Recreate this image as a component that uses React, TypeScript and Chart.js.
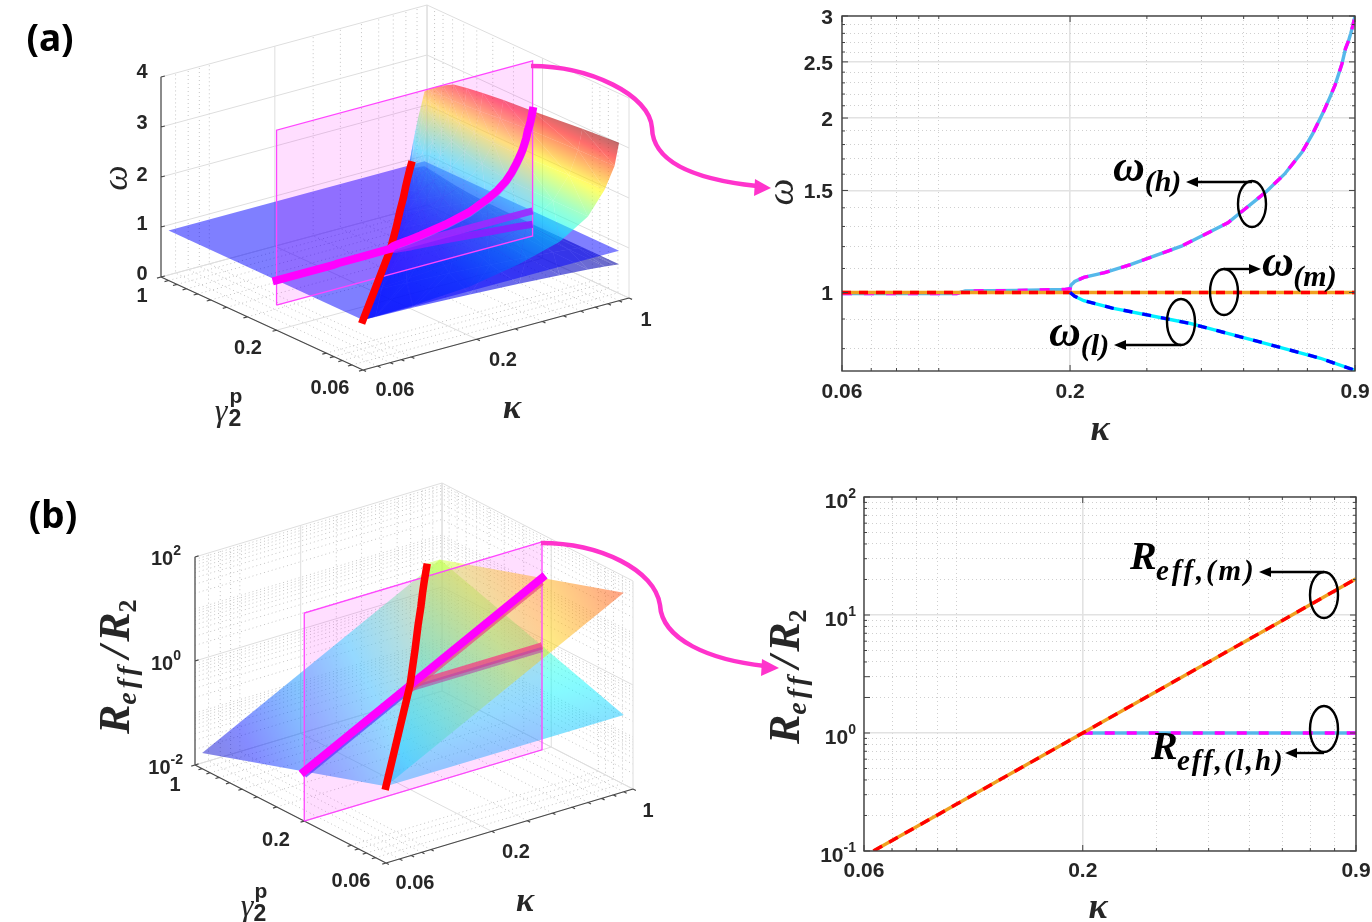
import React, { useEffect, useRef } from 'react';
import { Chart, registerables } from 'chart.js';

Chart.register(...registerables);

// ---------- data ----------
const kappaHigh = [0.06, 0.11, 0.115, 0.15, 0.195, 0.2, 0.201, 0.205, 0.215, 0.24, 0.275, 0.36, 0.46, 0.56, 0.62, 0.68, 0.72, 0.762, 0.79, 0.81, 0.84, 0.856, 0.87, 0.88, 0.89, 0.9];
const omegaHigh = [0.996, 0.996, 1.006, 1.008, 1.012, 1.015, 1.03, 1.045, 1.062, 1.082, 1.117, 1.202, 1.319, 1.487, 1.6, 1.745, 1.88, 2.05, 2.18, 2.28, 2.48, 2.636, 2.72, 2.8, 2.89, 3];
const kappaMid = [0.06, 0.2, 0.9];
const omegaMid = [1, 1, 1];
const kappaLow = [0.2, 0.205, 0.215, 0.25, 0.375, 0.56, 0.75, 0.9];
const omegaLow = [1, 0.985, 0.968, 0.94, 0.885, 0.817, 0.77, 0.734];

const kappaRm = [0.0632, 0.1, 0.2, 0.4, 0.6, 0.9];
const ratioRm = [0.1, 0.25, 1, 4, 9, 20.25];
const kappaRlh = [0.2, 0.4, 0.6, 0.9];
const ratioRlh = [1, 1, 1, 1];

const kappaMajor = [0.06, 0.2, 0.9];
const kappaMinor = [0.07, 0.08, 0.09, 0.1, 0.3, 0.4, 0.5, 0.6, 0.7, 0.8];
const omegaMajor = [1, 1.5, 2, 2.5, 3];
const omegaMinor = [0.8, 0.9, 1.1, 1.2, 1.3, 1.4, 1.6, 1.7, 1.8, 1.9, 2.1, 2.2, 2.3, 2.4, 2.6, 2.7, 2.8, 2.9];
const ratioMajor = [0.1, 1, 10, 100];
const ratioMinor = [0.2, 0.3, 0.4, 0.5, 0.6, 0.7, 0.8, 0.9, 2, 3, 4, 5, 6, 7, 8, 9, 20, 30, 40, 50, 60, 70, 80, 90];
const ratioExponents = ['-1', '0', '1', '2'];

// 3D surfaces
const axisMajor3d = [0.06, 0.2, 1];
const axisMinor3d = [0.07, 0.08, 0.09, 0.1, 0.3, 0.4, 0.5, 0.6, 0.7, 0.8, 0.9];
const omegaTicks3d = [0, 1, 2, 3, 4];
const ratioTicks3d = [0.01, 1, 100];
const ratioMinor3d = [0.02, 0.03, 0.04, 0.05, 0.06, 0.07, 0.08, 0.09, 0.1, 0.2, 0.3, 0.4, 0.5, 0.6, 0.7, 0.8, 0.9, 2, 3, 4, 5, 6, 7, 8, 9, 10, 20, 30, 40, 50, 60, 70, 80, 90];
const gammaRows = [0.06, 0.1, 0.2, 0.3, 0.4, 0.5, 0.6, 0.7, 0.8, 0.85, 0.9];
const epKappa = [0.06, 0.1, 0.2, 0.29, 0.375, 0.46, 0.54, 0.62, 0.7, 0.74, 0.78];
const epOmega = [1, 1, 1, 1, 1, 1, 1, 1, 1, 1, 1];
const edgeFractions = [0, 0.01, 0.05, 0.15, 0.3, 0.5, 0.7, 0.85, 0.95, 1];
const omegaHighRows = [
  [1, 1.005, 1.02, 1.09, 1.27, 1.5, 1.85, 2.3, 2.72, 3.16],
  [1, 1.015, 1.05, 1.11, 1.265, 1.49, 1.82, 2.25, 2.7, 3.1],
  [1, 1.025, 1.08, 1.14, 1.26, 1.47, 1.76, 2.17, 2.65, 3.0],
  [1, 1.04, 1.12, 1.2, 1.32, 1.5, 1.78, 2.15, 2.6, 2.95],
  [1, 1.06, 1.16, 1.27, 1.4, 1.56, 1.82, 2.15, 2.55, 2.9],
  [1, 1.08, 1.2, 1.33, 1.46, 1.65, 1.88, 2.18, 2.52, 2.85],
  [1, 1.1, 1.26, 1.44, 1.6, 1.76, 1.95, 2.2, 2.5, 2.8],
  [1, 1.12, 1.32, 1.55, 1.72, 1.9, 2.06, 2.26, 2.5, 2.68],
  [1, 1.12, 1.3, 1.55, 1.78, 1.98, 2.14, 2.3, 2.45, 2.55],
  [1, 1.12, 1.27, 1.5, 1.72, 1.96, 2.14, 2.28, 2.4, 2.47],
  [1, 1.1, 1.22, 1.45, 1.65, 1.9, 2.1, 2.25, 2.35, 2.4],
];
const omegaLowRows = [
  [1, 0.995, 0.98, 0.93, 0.88, 0.83, 0.79, 0.76, 0.74, 0.73],
  [1, 0.99, 0.97, 0.93, 0.88, 0.83, 0.79, 0.76, 0.74, 0.73],
  [1, 0.98, 0.955, 0.92, 0.875, 0.825, 0.785, 0.757, 0.74, 0.733],
  [1, 0.975, 0.945, 0.91, 0.87, 0.825, 0.79, 0.76, 0.745, 0.74],
  [1, 0.97, 0.94, 0.905, 0.87, 0.83, 0.795, 0.77, 0.755, 0.75],
  [1, 0.965, 0.93, 0.9, 0.87, 0.835, 0.805, 0.785, 0.775, 0.77],
  [1, 0.96, 0.925, 0.895, 0.875, 0.85, 0.83, 0.815, 0.805, 0.8],
  [1, 0.955, 0.925, 0.9, 0.885, 0.87, 0.86, 0.85, 0.845, 0.84],
  [1, 0.955, 0.93, 0.91, 0.9, 0.89, 0.885, 0.88, 0.875, 0.87],
  [1, 0.96, 0.94, 0.925, 0.915, 0.905, 0.9, 0.895, 0.89, 0.885],
  [1, 0.96, 0.94, 0.93, 0.92, 0.915, 0.91, 0.905, 0.9, 0.9],
];
const flatKappa = [0.06, 0.9, 0.9, 0.06];
const flatGamma = [0.06, 0.06, 0.9, 0.9];
const flatOmega = [1, 1, 1, 1];
const sliceGamma = 0.2;
const sliceKappa = [0.06, 0.9, 0.9, 0.06, 0.06];
const sliceOmega = [0.5, 0.5, 4, 4, 0.5];
const sliceRatio = [0.01, 0.01, 100, 100, 0.01];
const sheetKappa = [0.06, 0.9, 0.9, 0.06];
const sheetGamma = [0.06, 0.06, 0.9, 0.9];
const sheetRatio = [0.3, 67.5, 4.5, 0.02];
const lineKappa3d = [0.06, 0.1, 0.2, 0.4, 0.6, 0.9];
const lineRatio3d = [0.09, 0.25, 1, 4, 9, 20.25];
const flatBranchKappa3d = [0.2, 0.9];
const flatBranchRatio3d = [1, 1];
const epRatio = [0.3, 0.5, 1, 1.7, 2.4, 3, 3.5, 3.9, 4.2, 4.35, 4.5];

// ---------- helpers ----------
type P = { x: number; y: number };
const clamp01 = (v: number) => Math.max(0, Math.min(1, v));
const jet = (t: number, a: number) => {
  const c = (k: number) => Math.round(255 * clamp01(1.5 - Math.abs(4 * t - k)));
  return `rgba(${c(3)},${c(2)},${c(1)},${a})`;
};
const GAP: P = { x: NaN, y: NaN };
const lg = (v: number) => Math.log(v / 0.06) / Math.log(1 / 0.06);

function makeProjector(o: P, uk: P, ug: P, uz: P, zf: (v: number) => number) {
  return (k: number, g: number, v: number): P => {
    const a = lg(k), b = lg(g), c = zf(v);
    return { x: o.x + a * uk.x + b * ug.x + c * uz.x, y: o.y + a * uk.y + b * ug.y + c * uz.y };
  };
}

function gradientFill(vals: number[], color: (v: number) => string) {
  return (c: any) => {
    const ch = c.chart;
    const pts: P[] = c.dataset.data;
    const xs = ch.scales.x, ys = ch.scales.y;
    if (!xs || !ys || !pts) return color(vals[0]);
    const X = pts.map((p) => xs.getPixelForValue(p.x));
    const Y = pts.map((p) => ys.getPixelForValue(p.y));
    if (!X.concat(Y).every(Number.isFinite)) return color(vals[0]);
    const d = (X[1] - X[0]) * (Y[2] - Y[0]) - (X[2] - X[0]) * (Y[1] - Y[0]);
    const lo = Math.min(...vals), hi = Math.max(...vals);
    if (Math.abs(d) < 1e-6 || hi - lo < 1e-6) return color(vals[0]);
    const A = ((vals[1] - vals[0]) * (Y[2] - Y[0]) - (vals[2] - vals[0]) * (Y[1] - Y[0])) / d;
    const B = ((X[1] - X[0]) * (vals[2] - vals[0]) - (X[2] - X[0]) * (vals[1] - vals[0])) / d;
    const n = A * A + B * B;
    if (n < 1e-14) return color(vals[0]);
    const at = (v: number) => [X[0] + ((v - vals[0]) * A) / n, Y[0] + ((v - vals[0]) * B) / n];
    const [x0, y0] = at(lo);
    const [x1, y1] = at(hi);
    if (![x0, y0, x1, y1].every(Number.isFinite)) return color(vals[0]);
    const g = ch.ctx.createLinearGradient(x0, y0, x1, y1);
    for (let i = 0; i <= 10; i++) g.addColorStop(i / 10, color(lo + ((hi - lo) * i) / 10));
    return g;
  };
}

const lineSet = (data: P[], color: string, width: number, dash: number[] = [], cap = 'butt') => ({
  data, showLine: true, borderColor: color, borderWidth: width, borderDash: dash, pointRadius: 0,
  fill: false, tension: 0, borderCapStyle: cap, borderJoinStyle: 'round', spanGaps: false,
});
const polySet = (data: P[], bg: any, border = 'rgba(0,0,0,0)', bw = 0) => ({
  data, showLine: true, backgroundColor: bg, borderColor: border, borderWidth: bw, pointRadius: 0,
  fill: 'shape', tension: 0,
});

function wallDatasets(pr: (k: number, g: number, v: number) => P, zMin: number, zMax: number, zMajor: number[], zMinor: number[]) {
  const major: P[] = [], minor: P[] = [], axis: P[] = [];
  const add = (arr: P[], ...pts: P[]) => { arr.push(...pts, GAP); };
  const verticals = (list: number[], arr: P[]) => {
    for (const k of list) add(arr, pr(k, 0.06, zMin), pr(k, 1, zMin), pr(k, 1, zMax));
    for (const g of list) add(arr, pr(0.06, g, zMin), pr(1, g, zMin), pr(1, g, zMax));
  };
  verticals(axisMajor3d, major);
  verticals(axisMinor3d, minor);
  for (const z of zMajor) add(major, pr(0.06, 1, z), pr(1, 1, z), pr(1, 0.06, z));
  for (const z of zMinor) add(minor, pr(0.06, 1, z), pr(1, 1, z), pr(1, 0.06, z));
  add(axis, pr(0.06, 1, zMax), pr(0.06, 1, zMin), pr(0.06, 0.06, zMin), pr(1, 0.06, zMin));
  for (const t of [...axisMajor3d, ...axisMinor3d]) {
    add(axis, pr(t, 0.06, zMin), pr(t, 0.0575, zMin));
    add(axis, pr(0.06, t, zMin), pr(0.0575, t, zMin));
  }
  for (const z of zMajor) add(axis, pr(0.06, 1, z), pr(0.0625, 1, z));
  return [
    lineSet(minor, '#c4c4c4', 1, [1, 3]),
    lineSet(major, '#dedede', 1),
    lineSet(axis, '#4a4a4a', 1.2),
  ];
}

function meshDatasets(
  pr: (k: number, g: number, v: number) => P,
  rows: number[][],
  color: (v: number) => string,
) {
  const out: any[] = [];
  const vert = (j: number, i: number) => {
    const k = epKappa[j] + edgeFractions[i] * (0.9 - epKappa[j]);
    return { p: pr(k, gammaRows[j], rows[j][i]), v: rows[j][i] };
  };
  for (let j = rows.length - 2; j >= 0; j--) {
    for (let i = 0; i < edgeFractions.length - 1; i++) {
      const a = vert(j, i), b = vert(j, i + 1), c = vert(j + 1, i + 1), d = vert(j + 1, i);
      for (const t of [[a, b, c], [a, c, d]]) {
        const vals = t.map((q) => q.v);
        out.push(polySet(t.map((q) => q.p), gradientFill(vals, color)));
      }
    }
  }
  return out;
}

// ---------- scene (both 3D panels and the call-out curves) ----------
function sceneDatasets() {
  const prA = makeProjector({ x: 363, y: 370 }, { x: 266, y: -72 }, { x: -202, y: -93 }, { x: 0, y: -200 }, (w) => w / 4);
  const prB = makeProjector({ x: 386, y: 863 }, { x: 247, y: -74 }, { x: -191, y: -98 }, { x: 0, y: -208 }, (r) => (Math.log10(r) + 2) / 4);
  const colA = (w: number) => jet((w - 0.65) / 2.55, 0.58);
  const zB = (r: number) => (Math.log10(r) + 2) / 4;
  const colB = (z: number) => jet(z * 0.85, 0.48);

  const a: any[] = [];
  a.push(...wallDatasets(prA, 0, 4, omegaTicks3d, []));
  a.push(...meshDatasets(prA, omegaLowRows, colA));
  a.push(polySet(flatKappa.map((k, i) => prA(k, flatGamma[i], flatOmega[i])), 'rgba(0,0,255,0.5)'));
  a.push(...meshDatasets(prA, omegaHighRows, colA));
  a.push(polySet(sliceKappa.map((k, i) => prA(k, sliceGamma, sliceOmega[i])), 'rgba(255,0,255,0.13)', '#ff45ff', 1.3));
  a.push(lineSet(kappaLow.map((k, i) => prA(k, sliceGamma, omegaLow[i])), 'rgba(140,30,255,0.9)', 7));
  a.push(lineSet(kappaMid.map((k, i) => prA(k, sliceGamma, omegaMid[i])).slice(1), 'rgba(160,40,255,0.9)', 7));
  a.push(lineSet(kappaHigh.map((k, i) => prA(k, sliceGamma, omegaHigh[i] * 0.97)).slice(8), 'rgba(170,120,255,0.6)', 6));
  a.push(lineSet(epKappa.map((k, i) => prA(k, gammaRows[i], epOmega[i])), '#ff0000', 7.5, [], 'square'));
  a.push(lineSet(kappaHigh.map((k, i) => prA(k, sliceGamma, omegaHigh[i])), '#ff00ff', 8, [], 'square'));

  const b: any[] = [];
  b.push(...wallDatasets(prB, 0.01, 100, ratioTicks3d, ratioMinor3d));
  const lowerPts: P[] = [prB(0.06, 0.06, 0.3), prB(0.9, 0.06, 0.3)];
  const lowerVals = [zB(0.3), zB(0.3)];
  lowerPts.push(prB(0.9, 0.9, 4.5));
  lowerVals.push(zB(4.5));
  for (let i = gammaRows.length - 1; i >= 0; i--) {
    lowerPts.push(prB(epKappa[i], gammaRows[i], epRatio[i]));
    lowerVals.push(zB(epRatio[i]));
  }
  b.push(polySet(lowerPts, gradientFill(lowerVals, colB)));
  const sheetVals = sheetRatio.map(zB);
  b.push(polySet(sheetKappa.map((k, i) => prB(k, sheetGamma[i], sheetRatio[i])), gradientFill(sheetVals, colB)));
  b.push(polySet(sliceKappa.map((k, i) => prB(k, sliceGamma, sliceRatio[i])), 'rgba(255,0,255,0.13)', '#ff45ff', 1.3));
  b.push(lineSet(flatBranchKappa3d.map((k, i) => prB(k, sliceGamma, flatBranchRatio3d[i])), 'rgba(245,60,130,0.75)', 7));
  b.push(lineSet(flatBranchKappa3d.map((k, i) => prB(k, sliceGamma, flatBranchRatio3d[i] * 0.85)), 'rgba(180,70,170,0.6)', 5));
  b.push(lineSet(lineKappa3d.slice(0, 3).map((k, i) => prB(k, sliceGamma, lineRatio3d[i] * 0.85)), 'rgba(100,40,255,0.7)', 6));
  b.push(lineSet(lineKappa3d.slice(2).map((k, i) => prB(k, sliceGamma, lineRatio3d[i + 2] * 0.82)), 'rgba(235,70,130,0.7)', 6));
  b.push(lineSet(lineKappa3d.map((k, i) => prB(k, sliceGamma, lineRatio3d[i])), '#ff00ff', 8, [], 'square'));
  b.push(lineSet(epKappa.slice(0, -1).map((k, i) => prB(k, gammaRows[i], epRatio[i])), '#ff0000', 7.5, [], 'square'));

  const all = [...a, ...b];
  const n = all.length;
  return all.map((d, i) => ({ ...d, order: n - i }));
}

function text(ctx: CanvasRenderingContext2D, s: string, x: number, y: number, font: string, align: CanvasTextAlign = 'center', color = '#262626') {
  ctx.font = font;
  ctx.textAlign = align;
  ctx.textBaseline = 'middle';
  ctx.fillStyle = color;
  ctx.fillText(s, x, y);
}

function pow10(ctx: CanvasRenderingContext2D, exp: string, right: number, y: number, size: number, esize: number) {
  ctx.save();
  ctx.font = `bold ${esize}px "Liberation Sans"`;
  const w = ctx.measureText(exp).width;
  text(ctx, exp, right, y - 5, `bold ${esize}px "Liberation Sans"`, 'right');
  text(ctx, '10', right - w, y + 3, `bold ${size}px "Liberation Sans"`, 'right');
  ctx.restore();
}

function ratioTitle(ctx: CanvasRenderingContext2D, cx: number, cy: number) {
  ctx.save();
  ctx.translate(cx, cy);
  ctx.rotate(-Math.PI / 2);
  ctx.fillStyle = '#262626';
  ctx.textBaseline = 'alphabetic';
  ctx.textAlign = 'left';
  const big = 'italic bold 44px "Liberation Serif"';
  const sub = 'italic bold 28px "Liberation Serif"';
  let x = -72;
  ctx.font = big; ctx.fillText('R', x, 10); x += ctx.measureText('R').width;
  ctx.font = sub; (ctx as any).letterSpacing = '4px'; ctx.fillText('eff', x, 17); x += ctx.measureText('eff').width + 4;
  (ctx as any).letterSpacing = '0px';
  ctx.font = 'italic bold 44px "Liberation Serif"'; ctx.fillText('/', x, 10); x += ctx.measureText('/').width + 4;
  ctx.font = big; ctx.fillText('R', x, 10); x += ctx.measureText('R').width;
  ctx.font = 'bold 26px "Liberation Serif"'; ctx.fillText('2', x, 17);
  ctx.restore();
}

function arrow(ctx: CanvasRenderingContext2D, x0: number, y0: number, x1: number, y1: number, color = '#000', w = 2.4, head = 12, half = 5) {
  const dx = Math.sign(x1 - x0);
  ctx.strokeStyle = color;
  ctx.fillStyle = color;
  ctx.lineWidth = w;
  ctx.beginPath(); ctx.moveTo(x0, y0); ctx.lineTo(x1 - dx * head, y1); ctx.stroke();
  ctx.beginPath(); ctx.moveTo(x1, y1); ctx.lineTo(x1 - dx * head, y1 - half); ctx.lineTo(x1 - dx * head, y1 + half); ctx.closePath(); ctx.fill();
}

function ring(ctx: CanvasRenderingContext2D, x: number, y: number) {
  ctx.strokeStyle = '#000';
  ctx.lineWidth = 2.4;
  ctx.beginPath(); ctx.ellipse(x, y, 14, 23, 0, 0, Math.PI * 2); ctx.stroke();
}

const scenePlugin = {
  id: 'sceneText',
  afterDatasetsDraw(chart: any) {
    const c: CanvasRenderingContext2D = chart.ctx;
    c.save();
    const tick = 'bold 20px "Liberation Sans"';
    text(c, '(a)', 50, 40, 'bold 37px "Noto Sans"', 'center', '#000');
    text(c, '(b)', 53, 517, 'bold 37px "Noto Sans"', 'center', '#000');
    // panel a
    [['0', 274], ['1', 224], ['2', 175], ['3', 123], ['4', 72]].forEach(([s, y]) => text(c, s as string, 142, y as number, tick));
    text(c, '1', 142, 296, tick);
    text(c, '0.2', 248, 348, tick);
    text(c, '0.06', 330, 388, tick);
    text(c, '0.06', 395, 390, tick);
    text(c, '0.2', 503, 360, tick);
    text(c, '1', 646, 320, tick);
    text(c, 'κ', 512, 409, 'italic bold 34px "Liberation Serif"');
    text(c, 'γ', 221, 413, 'italic 32px "Liberation Serif"');
    text(c, 'p', 236, 397, 'bold 21px "Liberation Sans"');
    text(c, '2', 235, 420, 'bold 23px "Liberation Sans"');
    c.save(); c.translate(118, 178); c.rotate(-Math.PI / 2);
    text(c, 'ω', 0, 0, 'italic 36px "Liberation Serif"'); c.restore();
    // panel b
    pow10(c, '2', 181, 556, 20, 14);
    pow10(c, '0', 181, 661, 20, 14);
    pow10(c, '-2', 183, 765, 20, 14);
    text(c, '1', 175, 785, tick);
    text(c, '0.2', 276, 840, tick);
    text(c, '0.06', 351, 881, tick);
    text(c, '0.06', 415, 883, tick);
    text(c, '0.2', 516, 852, tick);
    text(c, '1', 648, 811, tick);
    text(c, 'κ', 525, 902, 'italic bold 34px "Liberation Serif"');
    text(c, 'γ', 247, 908, 'italic 32px "Liberation Serif"');
    text(c, 'p', 261, 892, 'bold 21px "Liberation Sans"');
    text(c, '2', 260, 915, 'bold 23px "Liberation Sans"');
    ratioTitle(c, 119, 662);
    // call-out curves
    c.strokeStyle = '#ff33cc';
    c.fillStyle = '#ff33cc';
    c.lineWidth = 4.5;
    c.beginPath(); c.moveTo(531, 66); c.bezierCurveTo(590, 66, 650, 95, 652, 128); c.bezierCurveTo(653, 165, 700, 180, 757, 186); c.stroke();
    c.beginPath(); c.moveTo(771, 188); c.lineTo(755, 179); c.lineTo(754, 196); c.closePath(); c.fill();
    c.beginPath(); c.moveTo(541, 543); c.bezierCurveTo(600, 543, 655, 570, 660, 605); c.bezierCurveTo(662, 640, 710, 660, 765, 666); c.stroke();
    c.beginPath(); c.moveTo(779, 668); c.lineTo(762, 659); c.lineTo(761, 676); c.closePath(); c.fill();
    c.restore();
  },
};

function frame(chart: any) {
  const c: CanvasRenderingContext2D = chart.ctx;
  const { left, right, top, bottom } = chart.chartArea;
  c.strokeStyle = '#404040';
  c.lineWidth = 1.4;
  c.strokeRect(left, top, right - left, bottom - top);
  c.lineWidth = 1;
  c.beginPath();
  for (const t of chart.scales.x.ticks) {
    const x = chart.scales.x.getPixelForValue(t.value);
    const len = kappaMajor.includes(t.value) ? 6 : 3;
    c.moveTo(x, bottom); c.lineTo(x, bottom - len);
    c.moveTo(x, top); c.lineTo(x, top + len);
  }
  for (const t of chart.scales.y.ticks) {
    const y = chart.scales.y.getPixelForValue(t.value);
    const len = omegaMajor.includes(t.value) || ratioMajor.includes(t.value) ? 6 : 3;
    c.moveTo(left, y); c.lineTo(left + len, y);
    c.moveTo(right, y); c.lineTo(right - len, y);
  }
  c.stroke();
}

const topPlugin = {
  id: 'topNotes',
  afterDatasetsDraw(chart: any) {
    const c: CanvasRenderingContext2D = chart.ctx;
    c.save();
    frame(chart);
    const w = 'italic bold 44px "Liberation Serif"';
    const s = 'italic bold 30px "Liberation Serif"';
    ring(c, 1252, 204);
    arrow(c, 1252, 182, 1186, 182);
    text(c, 'ω', 1129, 170, w, 'center', '#000');
    text(c, '(h)', 1163, 183, s, 'center', '#000');
    ring(c, 1224, 292);
    arrow(c, 1224, 269, 1261, 269);
    text(c, 'ω', 1278, 265, w, 'center', '#000');
    text(c, '(m)', 1315, 278, s, 'center', '#000');
    ring(c, 1181, 322);
    arrow(c, 1181, 345, 1114, 345);
    text(c, 'ω', 1065, 335, w, 'center', '#000');
    text(c, '(l)', 1095, 347, s, 'center', '#000');
    text(c, 'κ', 1100, 431, 'italic bold 36px "Liberation Serif"');
    c.save(); c.translate(783, 192); c.rotate(-Math.PI / 2);
    text(c, 'ω', 0, 0, 'italic 38px "Liberation Serif"'); c.restore();
    c.restore();
  },
};

const bottomPlugin = {
  id: 'bottomNotes',
  afterDatasetsDraw(chart: any) {
    const c: CanvasRenderingContext2D = chart.ctx;
    c.save();
    frame(chart);
    ratioMajor.forEach((v, i) => {
      pow10(c, ratioExponents[i], 856, chart.scales.y.getPixelForValue(v) + 2, 21, 14);
    });
    const big = 'italic bold 40px "Liberation Serif"';
    const sub = 'italic bold 29px "Liberation Serif"';
    ring(c, 1324, 595);
    arrow(c, 1324, 572, 1259, 572);
    text(c, 'R', 1130, 559, big, 'left', '#000');
    (c as any).letterSpacing = '2.8px';
    text(c, 'eff,(m)', 1156, 573, sub, 'left', '#000');
    (c as any).letterSpacing = '0px';
    ring(c, 1324, 729);
    arrow(c, 1324, 753, 1285, 753);
    text(c, 'R', 1151, 749, big, 'left', '#000');
    (c as any).letterSpacing = '2px';
    text(c, 'eff,(l,h)', 1177, 763, sub, 'left', '#000');
    (c as any).letterSpacing = '0px';
    text(c, 'κ', 1098, 909, 'italic bold 36px "Liberation Serif"');
    ratioTitle(c, 789, 672);
    c.restore();
  },
};

const AXIS_W = 70;
const AXIS_H = 50;

function logAxis(min: number, max: number, major: number[], minor: number[], showLabels: boolean, padding: number, labelOffset = 0) {
  return {
    type: 'logarithmic',
    min,
    max,
    bounds: 'data',
    afterBuildTicks: (s: any) => {
      s.ticks = [...major, ...minor].sort((a, b) => a - b).map((value) => ({ value }));
    },
    afterFit: (s: any) => {
      if (s.isHorizontal()) s.height = AXIS_H; else s.width = AXIS_W;
      s.paddingLeft = s.paddingRight = s.paddingTop = s.paddingBottom = 0;
    },
    ticks: {
      autoSkip: false,
      maxRotation: 0,
      minRotation: 0,
      padding,
      labelOffset,
      color: '#262626',
      font: { family: '"Liberation Sans"', weight: 'bold', size: 21 },
      callback: (v: number) => (showLabels && major.includes(v) ? String(v) : ''),
    },
    grid: {
      drawTicks: false,
      color: (c: any) => (c.tick && major.includes(c.tick.value) ? '#e2e2e2' : '#cfcfcf'),
      lineWidth: (c: any) => (c.tick && major.includes(c.tick.value) ? 1.6 : 1),
    },
    border: {
      display: false,
      dash: (c: any) => (c.tick && major.includes(c.tick.value) ? [] : [1, 3]),
    },
  };
}

const curve = (xs: number[], ys: number[], color: string, dash: number[], width = 3.4) => ({
  data: xs.map((x, i) => ({ x, y: ys[i] })),
  showLine: true, borderColor: color, borderWidth: width, borderDash: dash, pointRadius: 0, tension: 0, fill: false,
  borderCapStyle: 'butt',
});

const baseOptions = {
  responsive: false,
  animation: false,
  events: [],
  plugins: { legend: { display: false }, tooltip: { enabled: false } },
};

export default function App() {
  const r1 = useRef<HTMLCanvasElement>(null);
  const r2 = useRef<HTMLCanvasElement>(null);
  const r3 = useRef<HTMLCanvasElement>(null);
  useEffect(() => {
    const top = new Chart(r1.current as any, {
      type: 'scatter',
      data: {
        datasets: [
          curve(kappaLow, omegaLow, '#0000ff', [9, 10]),
          curve(kappaLow, omegaLow, '#00f0ff', []),
          curve(kappaMid, omegaMid, '#ff0000', [9, 8]),
          curve(kappaMid, omegaMid, '#f0a020', []),
          curve(kappaHigh, omegaHigh, '#ff00ff', [10, 12]),
          curve(kappaHigh, omegaHigh, '#55b8ea', []),
        ] as any,
      },
      options: {
        ...baseOptions,
        layout: { padding: { left: 842 - AXIS_W, right: 17, top: 16, bottom: 551 - AXIS_H } },
        scales: {
          x: logAxis(0.06, 0.9, kappaMajor, kappaMinor, true, 9),
          y: logAxis(0.732, 3, omegaMajor, omegaMinor, true, 9, 2),
        },
      } as any,
      plugins: [topPlugin] as any,
    });
    const bottom = new Chart(r2.current as any, {
      type: 'scatter',
      data: {
        datasets: [
          curve(kappaRm, ratioRm, '#ff0000', [10, 8]),
          curve(kappaRm, ratioRm, '#f0a020', []),
          curve(kappaRlh, ratioRlh, '#ff00ff', [10, 12]),
          curve(kappaRlh, ratioRlh, '#55b8ea', []),
        ] as any,
      },
      options: {
        ...baseOptions,
        layout: { padding: { left: 864 - AXIS_W, right: 16, top: 497, bottom: 71 - AXIS_H } },
        scales: {
          x: logAxis(0.06, 0.9, kappaMajor, kappaMinor, true, 8),
          y: logAxis(0.1, 100, ratioMajor, ratioMinor, false, 8),
        },
      } as any,
      plugins: [bottomPlugin] as any,
    });
    const scene = new Chart(r3.current as any, {
      type: 'scatter',
      data: { datasets: sceneDatasets() as any },
      options: {
        ...baseOptions,
        layout: { padding: 0 },
        scales: {
          x: { type: 'linear', min: 0, max: 1372, display: false },
          y: { type: 'linear', min: 0, max: 922, reverse: true, display: false },
        },
      } as any,
      plugins: [scenePlugin] as any,
    });
    return () => {
      top.destroy();
      bottom.destroy();
      scene.destroy();
    };
  }, []);
  const style: React.CSSProperties = { position: 'absolute', left: 0, top: 0, filter: 'blur(0.45px)' };
  return (
    <div style={{ position: 'fixed', left: 0, top: 0, width: 1372, height: 922, background: '#fff', overflow: 'hidden' }}>
      <canvas ref={r1} width={1372} height={922} style={style} />
      <canvas ref={r2} width={1372} height={922} style={style} />
      <canvas ref={r3} width={1372} height={922} style={style} />
    </div>
  );
}
